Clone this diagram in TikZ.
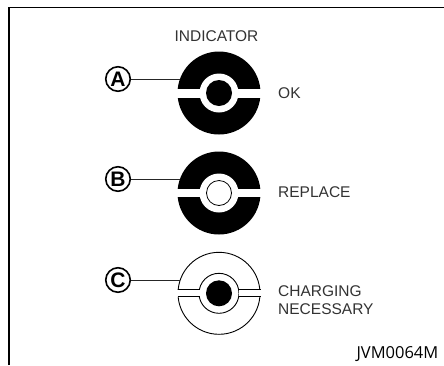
\documentclass[tikz,border=0pt]{standalone}
\usepackage{fontspec}
\setmainfont{Liberation Sans}
\newfontfamily\idfont{Open Sans}
\begin{document}
\begin{tikzpicture}[x=1pt,y=-1pt,
  lab/.style={font=\fontsize{15.5}{18}\selectfont,anchor=west,align=left,inner sep=0pt,text=black!80},
  letter/.style={circle,draw=black,line width=1.6pt,minimum size=24.5pt,inner sep=0pt,font=\bfseries\fontsize{21}{21}\selectfont},
  lead/.style={line width=0.8pt,black!85},
  gapw/.style={fill=white}]
\useasboundingbox (0,0) rectangle (444,365);
\fill[white] (0,0) rectangle (444,365);
\draw[line width=1.5pt] (9,365) -- (9,7.5) -- (444,7.5);
% A
\coordinate (ca) at (219,93);
\fill (ca) circle (41.5);
\fill[white] (ca) circle (19.5);
\fill (ca) circle (13);
\fill[gapw] (ca)++(-42,-4.5) rectangle ++(23,9);
\fill[gapw] (ca)++(19,-4.5) rectangle ++(23,9);
% B
\coordinate (cb) at (219,193);
\fill (cb) circle (41.5);
\fill[white] (cb) circle (19.5);
\draw[line width=0.8pt] (cb) circle (12.5);
\fill[gapw] (cb)++(-42,-4) rectangle ++(23,8);
\fill[gapw] (cb)++(19,-4) rectangle ++(23,8);
% C
\coordinate (cc) at (219,293.3);
\draw[line width=0.9pt,fill=white] (cc) circle (41);
\draw[line width=0.9pt] (cc) circle (20);
\fill (cc) circle (13);
\fill[gapw] (cc)++(-42,-3.5) rectangle ++(22.5,7);
\fill[gapw] (cc)++(19.5,-3.5) rectangle ++(22.5,7);
\draw[line width=1pt] (177.5,289.8) -- (199.5,289.8) (177.5,296.8) -- (199.5,296.8) (238.5,289.8) -- (260.5,289.8) (238.5,296.8) -- (260.5,296.8);
% letters
\node[letter] (la) at (118,79) {A};
\node[letter] (lb) at (118,179) {B};
\node[letter] (lc) at (118,280) {C};
\coordinate (ea) at (180,79);
\coordinate (eb) at (180,179);
\coordinate (ec) at (180,280);
\draw[lead] (la) -- (ea);
\draw[lead] (lb) -- (eb);
\draw[lead] (lc) -- (ec);
% texts
\node[lab,anchor=center] (ti) at (216.5,36) {INDICATOR};
\node[lab] (t1) at (278,93) {OK};
\node[lab] (t2) at (278,192) {REPLACE};
\node[lab] (t3) at (278,300) {CHARGING\\NECESSARY};
\node[anchor=east,inner sep=0pt,font=\idfont\fontsize{16.5}{18}\selectfont] (id) at (438.5,354) {JVM0064M};
\end{tikzpicture}
\end{document}
